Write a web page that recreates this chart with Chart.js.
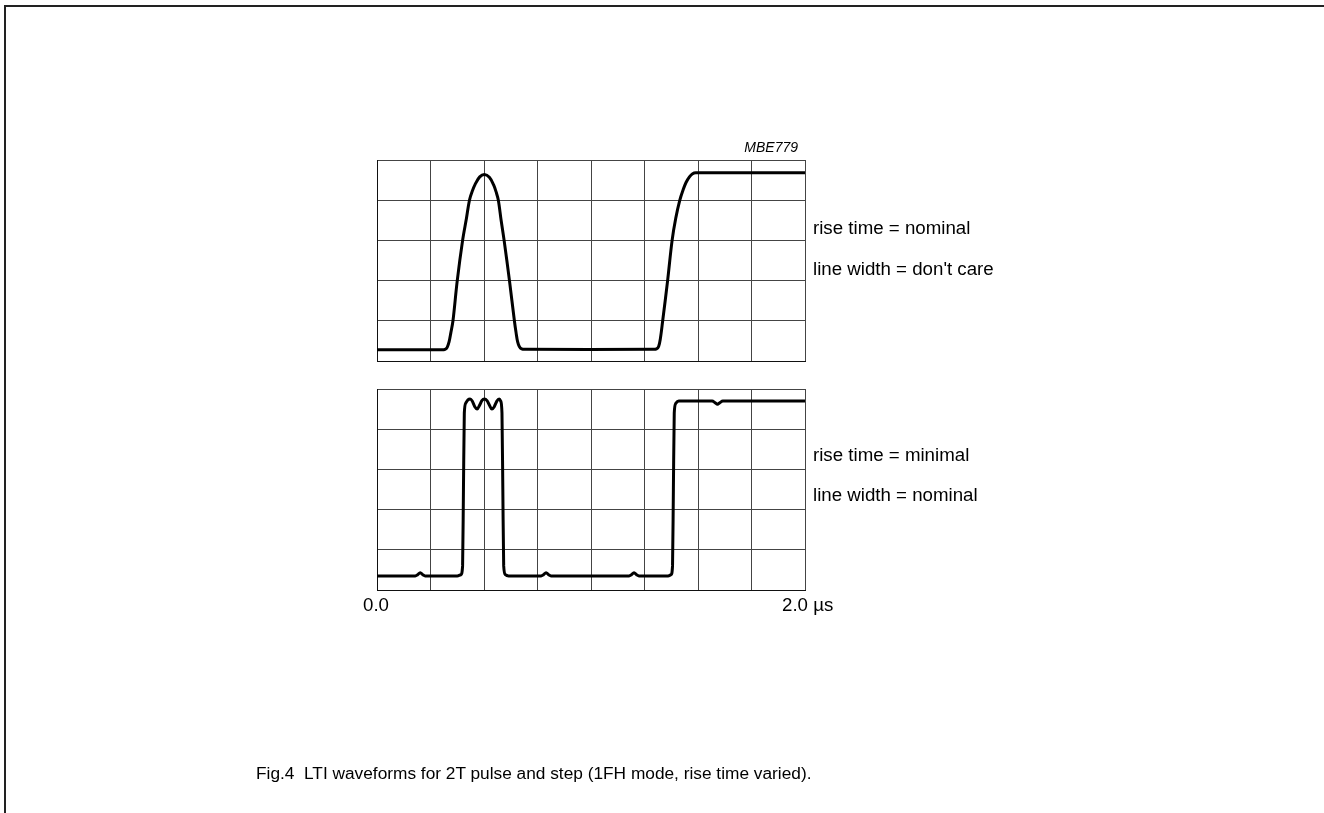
<!DOCTYPE html>
<html>
<head>
<meta charset="utf-8">
<title>Fig.4 LTI waveforms</title>
<script src="https://cdn.jsdelivr.net/npm/chart.js@4.4.0/dist/chart.umd.min.js"></script>
<style>
body { margin:0; background:#fff; width:1324px; height:813px; overflow:hidden; position:relative; font-family:"Liberation Sans", Arial, sans-serif; }
#frame { position:absolute; left:4px; top:5px; width:1330px; height:820px; border-top:2px solid #222; border-left:2px solid #222; }
canvas { position:absolute; left:0; top:0; }
.lbl { position:absolute; font-size:18.7px; line-height:1; white-space:nowrap; color:#000; }
</style>
</head>
<body>
<div id="frame"></div>
<canvas id="topChart" width="1324" height="813"></canvas>
<canvas id="bottomChart" width="1324" height="813"></canvas>

<div class="lbl" style="right:526px; top:140px; font-size:14px; font-style:italic;">MBE779</div>
<div class="lbl" style="left:813px; top:219px;">rise time = nominal</div>
<div class="lbl" style="left:813px; top:260px;">line width = don't care</div>
<div class="lbl" style="left:813px; top:446px;">rise time = minimal</div>
<div class="lbl" style="left:813px; top:486px;">line width = nominal</div>
<div class="lbl" style="left:363px; top:596px;">0.0</div>
<div class="lbl" style="left:782px; top:596px;">2.0 µs</div>
<div class="lbl" style="left:256px; top:765px; font-size:17.3px;">Fig.4&nbsp;&nbsp;LTI waveforms for 2T pulse and step (1FH mode, rise time varied).</div>

<script>
// time axis in microseconds, amplitude in grid divisions (0..5)
var xTicks = [0, 0.25, 0.5, 0.75, 1.0, 1.25, 1.5, 1.75, 2.0];
var yTicks = [0, 1, 2, 3, 4, 5];

// top trace: rise time = nominal, line width = don't care
var topX = [0, 0.30, 0.318, 0.328, 0.337, 0.345, 0.355, 0.375, 0.40, 0.418, 0.432, 0.445, 0.459, 0.48, 0.502, 0.525, 0.545, 0.557, 0.567, 0.58, 0.594, 0.619, 0.642, 0.650, 0.657, 0.665, 0.676, 0.695,
            1.29, 1.306, 1.316, 1.324, 1.335, 1.358, 1.379, 1.396, 1.415, 1.43, 1.444, 1.46, 1.475, 1.49, 2.0];
var topY = [0.28, 0.28, 0.29, 0.34, 0.48, 0.70, 1.0, 2.0, 3.0, 3.55, 4.0, 4.22, 4.40, 4.58, 4.64, 4.57, 4.38, 4.2, 4.0, 3.5, 3.0, 2.0, 1.0, 0.70, 0.48, 0.36, 0.30, 0.29,
            0.29, 0.30, 0.36, 0.55, 1.0, 2.0, 3.0, 3.55, 4.0, 4.25, 4.44, 4.58, 4.66, 4.68, 4.68];

// bottom trace: rise time = minimal, line width = nominal
var bottomX = [0, 0.179, 0.19, 0.202, 0.214, 0.225,
               0.375, 0.392, 0.400, 0.404, 0.408, 0.415, 0.425, 0.435, 0.445, 0.457, 0.468, 0.48, 0.49, 0.502, 0.514, 0.525, 0.537, 0.548, 0.56, 0.571, 0.578, 0.584, 0.588, 0.592, 0.600, 0.615,
               0.767, 0.778, 0.79, 0.802, 0.813,
               1.178, 1.189, 1.201, 1.213, 1.224,
               1.36, 1.374, 1.381, 1.385, 1.389, 1.396, 1.41, 1.566, 1.58, 1.591, 1.602, 1.616, 2.0];
var bottomY = [0.35, 0.35, 0.38, 0.43, 0.38, 0.35,
               0.35, 0.38, 0.60, 2.5, 4.4, 4.65, 4.73, 4.75, 4.70, 4.56, 4.50, 4.60, 4.71, 4.75, 4.71, 4.60, 4.50, 4.56, 4.70, 4.75, 4.70, 4.4, 2.5, 0.60, 0.38, 0.35,
               0.35, 0.38, 0.43, 0.38, 0.35,
               0.35, 0.38, 0.43, 0.38, 0.35,
               0.35, 0.38, 0.60, 2.5, 4.4, 4.64, 4.70, 4.70, 4.66, 4.62, 4.66, 4.70, 4.70];

function makePoints(xs, ys){
    var pts = [];
    for(var i = 0; i < xs.length; i++){
        pts.push({x: xs[i], y: ys[i]});
    }
    return pts;
}

function makeScale(min, max, ticks){
    return {
        type: 'linear',
        min: min,
        max: max,
        afterBuildTicks: function(axis){
            axis.ticks = ticks.map(function(v){ return {value: v}; });
        },
        ticks: { display: false },
        grid: { color: '#444', lineWidth: 1, drawTicks: false },
        border: { display: true, color: '#111', width: 1 }
    };
}

function drawPanel(id, xs, ys, padTop, padBottom, smooth){
    var ds = {
        data: makePoints(xs, ys),
        borderColor: '#000',
        borderWidth: 3,
        pointRadius: 0,
        fill: false
    };
    if(smooth){
        // soft nominal rise time -> plain spline
        ds.tension = 0.35;
    }else{
        ds.cubicInterpolationMode = 'monotone';
    }
    var config = {
        type: 'line',
        data: { datasets: [ds] },
        options: {
            responsive: false,
            animation: false,
            devicePixelRatio: 1,
            layout: { padding: { left: 377, right: 519, top: padTop, bottom: padBottom } },
            plugins: { legend: { display: false }, tooltip: { enabled: false } },
            scales: {
                x: makeScale(0, 2, xTicks),
                y: makeScale(0, 5, yTicks)
            }
        }
    };
    return new Chart(document.getElementById(id).getContext('2d'), config);
}

drawPanel('topChart', topX, topY, 160, 452, true);
drawPanel('bottomChart', bottomX, bottomY, 389, 223, false);
</script>
</body>
</html>
